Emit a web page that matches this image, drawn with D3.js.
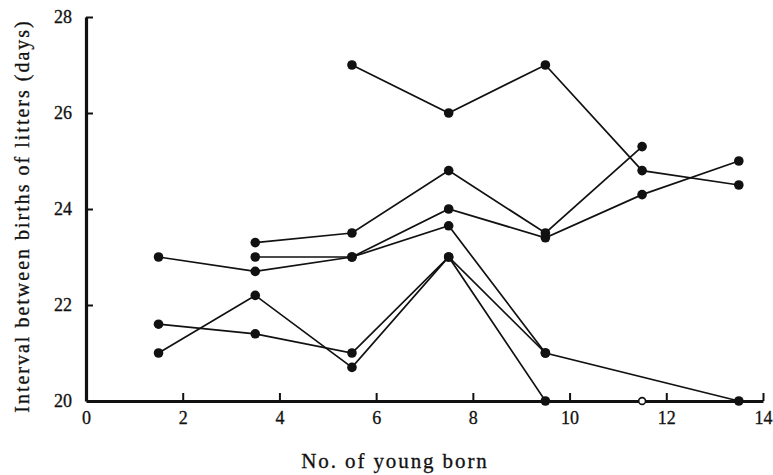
<!DOCTYPE html>
<html>
<head>
<meta charset="utf-8">
<script src="https://cdn.jsdelivr.net/npm/d3@7"></script>
<style>
  body { margin: 0; background: #fff; }
  svg text { font-family: "Liberation Serif", "DejaVu Serif", serif; fill: #111; }
</style>
</head>
<body>
<svg id="chart" width="773" height="475"></svg>
<script>
// values: litter size (x) vs interval (days)
const xTicks = [0, 2, 4, 6, 8, 10, 12, 14];
const yTicks = [20, 22, 24, 26, 28];

const series1 = [[5.5, 27.0], [7.5, 26.0], [9.5, 27.0], [11.5, 24.8], [13.5, 24.5]];
const series2 = [[3.5, 23.3], [5.5, 23.5], [7.5, 24.8], [9.5, 23.5], [11.5, 25.3]];
const series3 = [[1.5, 23.0], [3.5, 22.7], [5.5, 23.0], [7.5, 24.0], [9.5, 23.4], [11.5, 24.3], [13.5, 25.0]];
const series4 = [[3.5, 23.0], [5.5, 23.0], [7.5, 23.65], [9.5, 21.0], [13.5, 20.0]];
const series5 = [[1.5, 21.6], [3.5, 21.4], [5.5, 21.0], [7.5, 23.0], [9.5, 21.0]];
const series6 = [[1.5, 21.0], [3.5, 22.2], [5.5, 20.7], [7.5, 23.0], [9.5, 20.0], [11.5, 20.0]];
// the one open circle on the chart
const openPoints = [[11.5, 20.0]];

const allSeries = [series1, series2, series3, series4, series5, series6];

const svg = d3.select('#chart');

const x = d3.scaleLinear().domain([0, 14]).range([86, 763]);
const y = d3.scaleLinear().domain([20, 28]).range([401, 17]);

// lines
const line = d3.line().x(d => x(d[0])).y(d => y(d[1]));
svg.append('g')
  .selectAll('path')
  .data(allSeries)
  .enter()
  .append('path')
  .attr('d', line)
  .attr('fill', 'none')
  .attr('stroke', '#111')
  .attr('stroke-width', 1.7);

// axes (ticks point inward, like the original)
const xAxis = svg.append('g')
  .attr('transform', 'translate(0,' + y(20) + ')')
  .call(d3.axisBottom(x).tickValues(xTicks).tickSize(-8).tickSizeOuter(0).tickPadding(10));

const yAxis = svg.append('g')
  .attr('transform', 'translate(' + x(0) + ',0)')
  .call(d3.axisLeft(y).tickValues(yTicks).tickSize(-7).tickSizeOuter(0).tickPadding(14));

[xAxis, yAxis].forEach(g => {
  g.select('.domain').attr('stroke', '#111').attr('stroke-width', 3.2);
  g.selectAll('.tick line').attr('stroke', '#111').attr('stroke-width', 2);
  g.selectAll('.tick text')
    .attr('font-size', 18)
    .attr('font-family', '"Liberation Serif", serif')
    .attr('fill', '#111')
    .attr('stroke', '#111')
    .attr('stroke-width', 0.3);
});
// no tick line on the corner
xAxis.selectAll('.tick').filter(d => d === 0).select('line').remove();
yAxis.selectAll('.tick').filter(d => d === 20).select('line').remove();

// points
const filled = allSeries.flat().filter(p => !openPoints.some(o => o[0] === p[0] && o[1] === p[1]));
svg.append('g')
  .selectAll('circle')
  .data(filled)
  .enter()
  .append('circle')
  .attr('cx', d => x(d[0]))
  .attr('cy', d => y(d[1]))
  .attr('r', 4.8)
  .attr('fill', '#111');

svg.append('g')
  .selectAll('circle')
  .data(openPoints)
  .enter()
  .append('circle')
  .attr('cx', d => x(d[0]))
  .attr('cy', d => y(d[1]))
  .attr('r', 3.4)
  .attr('fill', '#fff')
  .attr('stroke', '#111')
  .attr('stroke-width', 1.6);

// axis titles
svg.append('text')
  .attr('x', 395)
  .attr('y', 468)
  .attr('text-anchor', 'middle')
  .attr('font-size', 21)
  .attr('letter-spacing', 1.9)
  .attr('stroke', '#111')
  .attr('stroke-width', 0.3)
  .text('No. of young born');

svg.append('text')
  .attr('transform', 'translate(29,216) rotate(-90)')
  .attr('text-anchor', 'middle')
  .attr('font-size', 20)
  .attr('letter-spacing', 2.0)
  .attr('stroke', '#111')
  .attr('stroke-width', 0.3)
  .text('Interval between births of litters (days)');
</script>
</body>
</html>
